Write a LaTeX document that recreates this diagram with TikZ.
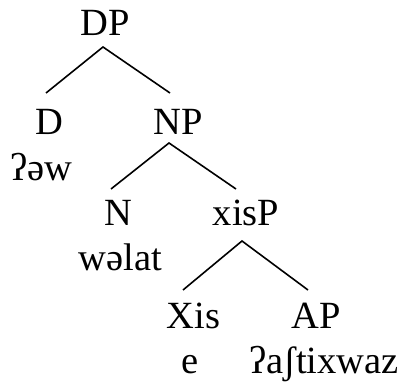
\documentclass[tikz,border=0pt]{standalone}
\usepackage{fontspec}
\setmainfont{Liberation Serif}
\usepackage{tikz}
\usetikzlibrary{positioning}

\tikzset{
    cat/.style={anchor=base, inner sep=0pt},
    branch/.style={line width=1.6pt}
}

\begin{document}
\begin{tikzpicture}[x=1pt, y=-1pt, font=\fontsize{38.5}{42}\selectfont]
    \useasboundingbox (0,0) rectangle (401,382);

    % Categories
    \node[cat] (dp) at (105.5, 36) {DP};
    \node[cat] (d) at (49, 135) {D};
    \node[cat] (np) at (178, 135) {NP};
    \node[cat] (n) at (118.5, 225) {N};
    \node[cat] (xisp) at (246, 225) {xisP};
    \node[cat] (xis) at (193.5, 328) {Xis};
    \node[cat] (ap) at (316, 328) {AP};

    % Words
    \node[cat] (dw) at (41, 180) {ʔəw};
    \node[cat] (nw) at (120.5, 270) {wəlat};
    \node[cat] (xisw) at (190, 373) {e};
    \node[cat] (apw) at (324, 373) {ʔaʃtixwaz};

    % Branches
    \draw[branch] ([xshift=-3pt, yshift=42pt]d.base) -- ([xshift=-2.5pt, yshift=-11pt]dp.base)
        -- ([xshift=-8pt, yshift=42pt]np.base);
    \draw[branch] ([xshift=-7.5pt, yshift=36pt]n.base) -- ([xshift=-9pt, yshift=-8pt]np.base)
        -- ([xshift=-10pt, yshift=36pt]xisp.base);
    \draw[branch] ([xshift=-10.5pt, yshift=38pt]xis.base) -- ([xshift=-4pt, yshift=-16pt]xisp.base)
        -- ([xshift=-8pt, yshift=38pt]ap.base);
\end{tikzpicture}
\end{document}
